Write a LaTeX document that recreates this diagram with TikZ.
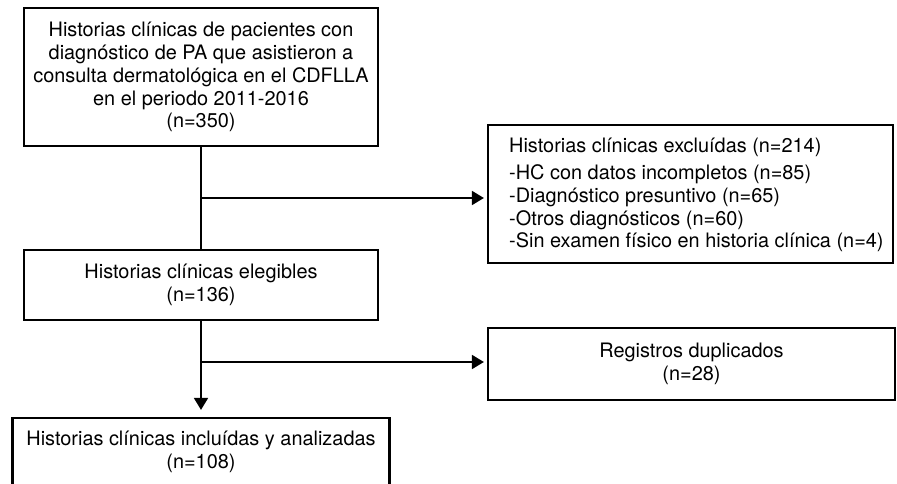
\documentclass[tikz,border=0pt]{standalone}
\usepackage{fontspec}
\setmainfont{TeX Gyre Heros}
\usetikzlibrary{arrows.meta}
\begin{document}
\begin{tikzpicture}[x=1pt,y=-1pt,
  txt/.style={inner sep=0pt, font=\fontsize{19.9}{22.9}\selectfont, align=center},
  box/.style={txt, draw, line width=2.2pt},
  conn/.style={line width=1.8pt},
  arr/.style={conn, -{Triangle[length=12pt,width=14pt]}}]
\useasboundingbox (0,0) rectangle (897,484);
\clip (0,0) rectangle (897,484);
\node[box, minimum width=354pt, minimum height=138pt] (b1) at (201,77)
  {Historias clínicas de pacientes con\\diagnóstico de PA que asistieron a\\consulta dermatológica en el CDFLLA\\en el periodo 2011-2016\\(n=350)};
\node[box, minimum width=405pt, minimum height=138pt] (b2) at (690.5,194) {};
\node[txt, align=left, anchor=west] (b2t) at (509,195)
  {Historias clínicas excluídas (n=214)\\[4pt]-HC con datos incompletos (n=85)\\-Diagnóstico presuntivo (n=65)\\-Otros diagnósticos (n=60)\\-Sin examen físico en historia clínica (n=4)};
\node[box, minimum width=354pt, minimum height=70pt] (b3) at (201,285)
  {Historias clínicas elegibles\\(n=136)};
\node[box, minimum width=407pt, minimum height=72pt] (b4) at (691.5,364)
  {Registros duplicados\\(n=28)};
\node[box, minimum width=377pt, minimum height=68pt] (b5) at (201,452)
  {Historias clínicas incluídas y analizadas\\(n=108)};
\coordinate (j1) at (201,198);
\coordinate (j2) at (201,362);
\draw[conn] (b1) -- (b3);
\draw[arr, shorten >=3pt] (j1) -- (j1 -| b2.west);
\draw[arr, shorten >=7pt] (b3) -- (b5);
\draw[arr, shorten >=3pt] (j2) -- (j2 -| b4.west);
\end{tikzpicture}
\end{document}
